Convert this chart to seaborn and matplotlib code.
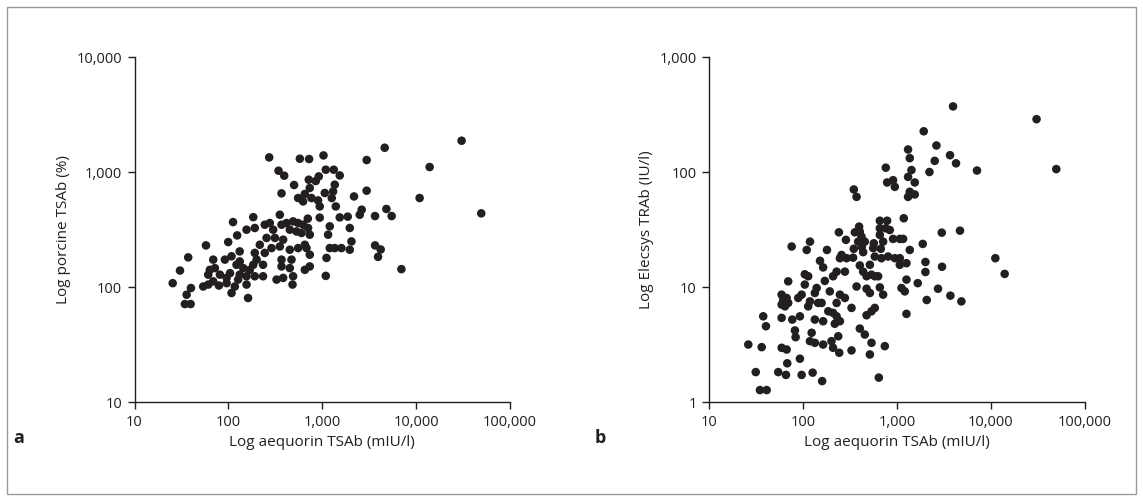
import matplotlib
matplotlib.use("Agg")
import matplotlib.pyplot as plt
import seaborn as sns
from matplotlib.patches import Rectangle
from matplotlib.ticker import FixedLocator, FuncFormatter, NullLocator

# Panel a: aequorin TSAb (mIU/l) vs porcine TSAb (%)
aequorin_a = [272, 577, 724, 1030, 342, 393, 1090, 1325, 1535, 918, 853, 718, 501, 1358, 736,
              368, 1303, 1262, 1064, 652, 553, 625, 767, 902, 940, 2178, 2972, 2970, 1393,
              184, 353, 701, 940, 1535, 1867, 2506, 2630, 30500, 4624, 13930, 10890, 4820,
              3647, 5484, 49400, 3650, 4190, 3926, 6966, 156, 191, 244, 276, 300, 368, 416,
              489, 553, 625, 706, 451, 532, 601, 736, 1202, 1153, 1963, 255, 313, 383, 216,
              288, 353, 451, 553, 652, 132, 191, 244, 736, 679, 1202, 1358, 1600, 2046, 1963,
              1109, 368, 470, 200, 184, 234, 132, 144, 169, 368, 451, 736, 652, 132, 156, 191,
              234, 489, 383, 326, 1090, 156, 482, 162, 112, 124, 99.5, 57.7, 37.3, 30.5, 25.5,
              39.9, 35.9, 34.4, 39.6, 68.9, 63.5, 61, 71.8, 91.8, 108, 122, 81.2, 95.7, 104,
              53.9, 61, 68.9, 79.2, 95.7, 117, 108, 127]
porcine_a = [1340, 1305, 1297, 1394, 1026, 929, 1047, 1047, 934, 916, 835, 857, 771, 776, 726,
             652, 678, 594, 657, 644, 594, 555, 594, 566, 502, 613, 1271, 688, 502,
             405, 425, 393, 401, 403, 409, 425, 470, 1871, 1626, 1105, 594, 477,
             414, 414, 437, 230, 212, 183, 143, 315, 326, 348, 360, 315, 348, 360,
             372, 360, 348, 326, 315, 304, 295, 285, 337, 285, 326, 267, 267, 258, 233,
             218, 225, 211, 218, 233, 204, 198, 198, 191, 218, 218, 218, 218, 249, 211,
             179, 173, 173, 173, 156, 156, 167, 146, 141, 151, 146, 151, 141, 128, 124, 124,
             124, 124, 120, 116, 125, 105, 105, 80.2, 367, 281, 246, 230, 181, 139, 108,
             98, 85.7, 71.1, 71.1, 173, 141, 128, 146, 173, 185, 156, 128, 120, 132,
             101, 105, 112, 103, 108, 101, 88.7, 116]

# Panel b: aequorin TSAb (mIU/l) vs Elecsys TRAb (IU/l)
aequorin_b = [1923, 1309, 1365, 758, 1423, 1309, 783, 906, 946, 1543, 1365, 1543, 1309, 346, 370,
              1178, 655, 783, 758, 836, 655, 655, 394, 401, 355, 418, 385, 453, 421, 240, 285,
              118, 565, 710, 906, 1069, 1159, 109, 179, 346, 556, 671, 1365, 1877, 3944, 30600,
              2626, 3664, 2518, 4246, 2213, 7098, 49660, 2992, 4677, 11140, 14000, 2005, 3012,
              2005, 1660, 2730, 2070, 3698, 4842, 75.3, 69.2, 104, 58.9, 61.2, 66.6, 58.9, 69.2,
              63.9, 88.5, 96.2, 104, 37.5, 58.9, 76.4, 92.2, 40.1, 81.6, 83, 26, 36.1, 58.9,
              66.6, 92.2, 67.6, 31.2, 54.2, 65.5, 96.2, 34.6, 40.8, 256, 290, 246, 340, 435,
              579, 682, 802, 946, 1069, 1259, 1069, 151, 163, 401, 513, 534, 473, 579, 628,
              227, 208, 278, 435, 113, 170, 1259, 370, 473, 513, 655, 710, 1114, 1208, 139,
              133, 192, 246, 278, 227, 118, 113, 144, 157, 327, 579, 534, 473, 1259, 185, 208,
              227, 246, 217, 133, 163, 401, 453, 123, 118, 133, 163, 200, 208, 236, 534, 740,
              242, 327, 513, 126, 159, 639]
elecsys_b = [226, 157, 132, 109, 104, 90.7, 81.1, 84.9, 74.3, 81.1, 67.3, 63.8, 60.8, 70.5, 60.8,
             39.6, 37.7, 37.7, 32.4, 31.3, 32.4, 28.4, 33.5, 30.3, 29.9, 27.4, 24.8, 24.8, 22.3,
             29.9, 25.7, 24.8, 24.0, 24.8, 26.2, 26.2, 26.2, 21.0, 21.0, 21.5, 21.8, 21.5, 21.0,
             23.7, 372, 288, 170, 140, 125, 119, 100, 103, 106, 29.7, 30.9, 17.8, 13.0, 16.5,
             15.0, 13.5, 10.8, 9.66, 7.71, 8.41, 7.50, 22.5, 11.2, 12.9, 8.58, 7.76, 8.03, 7.03,
             7.27, 6.79, 8.03, 8.58, 10.5, 5.56, 5.39, 5.21, 5.56, 4.56, 4.19, 3.66, 3.16, 3.00,
             2.96, 2.86, 2.38, 2.17, 1.82, 1.82, 1.72, 1.72, 1.27, 1.27, 19.0, 17.8, 17.8, 18.0,
             20.1, 18.4, 17.8, 18.4, 17.8, 17.8, 16.1, 15.6, 16.9, 14.8, 15.4, 15.6, 12.8, 12.4,
             12.4, 12.4, 13.6, 12.4, 13.6, 13.6, 12.4, 11.3, 11.6, 10.1, 9.66, 8.87, 9.92, 8.58,
             9.80, 9.16, 9.80, 8.87, 9.16, 8.58, 8.03, 7.27, 7.50, 6.79, 7.27, 7.27, 6.58, 6.58,
             6.15, 5.68, 5.84, 6.15, 5.96, 5.56, 5.04, 4.79, 5.21, 5.04, 4.35, 3.86, 4.00, 3.38,
             3.27, 3.16, 3.38, 2.96, 3.73, 3.27, 3.06, 2.68, 2.81, 2.59, 1.80, 1.52, 1.63]

x_ticks = [10, 100, 1000, 10000, 100000]
y_ticks_a = [10, 100, 1000, 10000]
y_ticks_b = [1, 10, 100, 1000]

sns.set_theme(style="ticks")
plt.rcParams['font.family'] = ['Open Sans', 'DejaVu Sans']
ink = '#231f20'

fig = plt.figure(figsize=(11.43, 5.01), dpi=100)
ax1 = fig.add_axes([0.1177, 0.1976, 0.3285, 0.6886])
ax2 = fig.add_axes([0.6206, 0.1976, 0.3285, 0.6886])

fmt = FuncFormatter(lambda v, p: f"{v:,.0f}")
for ax, xs, ys, yt, ylab in [(ax1, aequorin_a, porcine_a, y_ticks_a, 'Log porcine TSAb (%)'),
                             (ax2, aequorin_b, elecsys_b, y_ticks_b, 'Log Elecsys TRAb (IU/l)')]:
    sns.scatterplot(x=xs, y=ys, ax=ax, color=ink, s=38, edgecolor='none', linewidth=0, clip_on=False)
    ax.set_xscale('log'); ax.set_yscale('log')
    ax.set_xlim(x_ticks[0], x_ticks[-1]); ax.set_ylim(yt[0], yt[-1])
    ax.xaxis.set_major_locator(FixedLocator(x_ticks)); ax.xaxis.set_minor_locator(NullLocator())
    ax.yaxis.set_major_locator(FixedLocator(yt)); ax.yaxis.set_minor_locator(NullLocator())
    ax.xaxis.set_major_formatter(fmt); ax.yaxis.set_major_formatter(fmt)
    for s in ['top', 'right']:
        ax.spines[s].set_visible(False)
    for s in ['left', 'bottom']:
        ax.spines[s].set_color(ink); ax.spines[s].set_linewidth(1.0)
    ax.tick_params(colors=ink, labelsize=10.5, length=5, width=1, direction='out', pad=4)
    ax.set_xlabel('Log aequorin TSAb (mIU/l)', fontsize=11, color=ink)
    ax.set_ylabel(ylab, fontsize=11, color=ink)
    ax.patch.set_alpha(0)

fig.text(0.012, 0.115, 'a', fontsize=13, fontweight='bold', color=ink)
fig.text(0.52, 0.115, 'b', fontsize=13, fontweight='bold', color=ink)
fig.patches.append(Rectangle((0.006, 0.014), 0.988, 0.972, transform=fig.transFigure,
                             fill=False, edgecolor='#9a9a9a', linewidth=1.0))
fig.savefig('out.png', dpi=100)
